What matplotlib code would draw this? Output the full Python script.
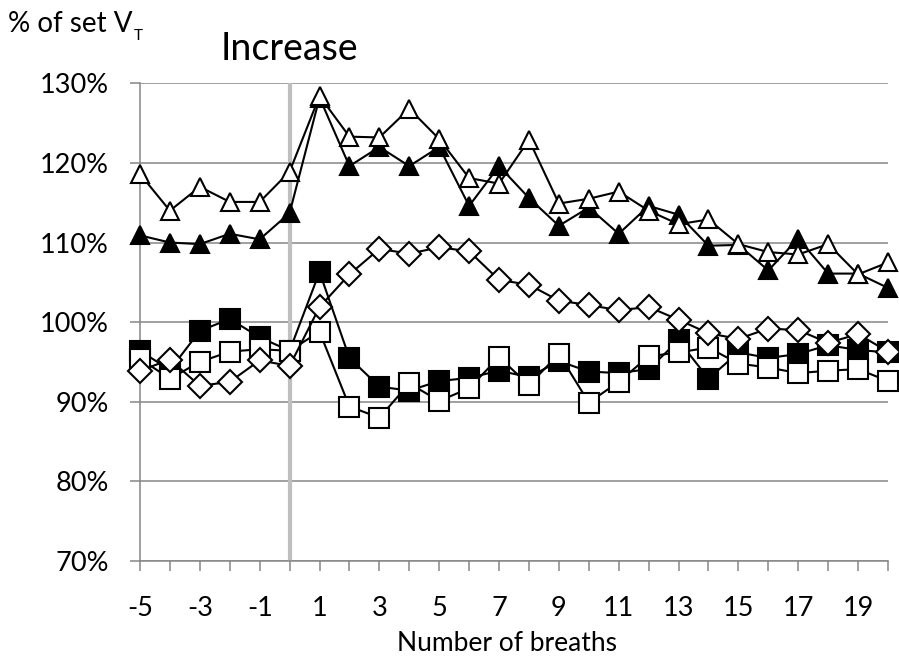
import matplotlib
matplotlib.use('Agg')
import matplotlib.pyplot as plt

plt.rcParams['font.family'] = ['Lato', 'DejaVu Sans']

# ---- data (percent of set VT) ----
breaths = list(range(-5, 21))
open_triangle = [118.6, 114.0, 117.0, 115.1, 115.1, 118.9, 128.4, 123.3, 123.2, 126.8,
                 123.0, 118.1, 117.4, 122.9, 114.9, 115.5, 116.4, 114.0, 112.3, 112.9,
                 109.8, 108.8, 108.5, 109.8, 106.0, 107.5]
filled_triangle = [110.9, 110.0, 109.8, 111.1, 110.4, 113.7, 128.2, 119.6, 122.0, 119.6,
                   122.0, 114.6, 119.6, 115.6, 112.1, 114.4, 111.1, 114.6, 113.5, 109.6,
                   109.7, 106.5, 110.5, 106.1, 106.1, 104.3]
open_diamond = [93.9, 95.3, 92.0, 92.5, 95.2, 94.5, 101.9, 106.0, 109.2, 108.6,
                109.4, 108.9, 105.3, 104.7, 102.7, 102.15, 101.5, 101.9, 100.3, 98.6,
                97.9, 99.2, 99.0, 97.4, 98.5, 96.3]
filled_square = [96.4, 94.0, 98.9, 100.4, 98.1, 96.4, 106.3, 95.5, 91.9, 91.4,
                 92.6, 93.0, 93.9, 93.1, 95.1, 93.8, 93.6, 94.1, 97.7, 92.9,
                 96.2, 95.5, 96.0, 97.1, 96.5, 96.2]
open_square = [95.4, 92.9, 95.0, 96.3, 96.6, 96.4, 98.8, 89.4, 88.0, 92.3,
               90.1, 91.7, 95.6, 92.1, 96.0, 89.9, 92.5, 95.7, 96.2, 96.8,
               94.8, 94.3, 93.6, 93.9, 94.1, 92.6]
y_ticks = [70, 80, 90, 100, 110, 120, 130]
x_tick_labels = [str(b) if b % 2 != 0 else '' for b in breaths]

W, H = 899, 658
fig = plt.figure(figsize=(W / 100, H / 100), dpi=100)
ax = fig.add_axes([140 / W, 1 - 561 / H, 748 / W, (561 - 83.3) / H])

grid_col = '#868686'
ax.set_xlim(-5, 20)
ax.set_ylim(70, 130)
ax.set_yticks(y_ticks)
ax.set_yticklabels(['%d%%' % v for v in y_ticks])
ax.set_xticks(breaths)
ax.set_xticklabels(x_tick_labels)

ax.yaxis.grid(True, color=grid_col, lw=1.1)
ax.set_axisbelow(True)
for s in ['top', 'right']:
    ax.spines[s].set_visible(False)
for s in ['left', 'bottom']:
    ax.spines[s].set_color(grid_col)
    ax.spines[s].set_linewidth(1.1)

ax.tick_params(axis='y', length=7.2, width=1.1, color=grid_col, labelsize=19.5, pad=15)
ax.tick_params(axis='x', length=7.2, width=1.1, color=grid_col, labelsize=19.5, pad=18)

ax.axvline(0, color='#bfbfbf', lw=3, zorder=1.5)

series = [
    (filled_square, 's', 'black', 14),
    (open_square, 's', 'white', 14),
    (open_diamond, 'D', 'white', 12.4),
    (filled_triangle, '^', 'black', 13.5),
    (open_triangle, '^', 'white', 13.5),
]
for i, (vals, m, fc, ms) in enumerate(series):
    ax.plot(breaths, vals, color='black', lw=1.5, marker=m, markersize=ms,
            mfc=fc, mec='black', mew=1.5, clip_on=False, zorder=3 + i)

fig.text(507 / W, 1 - 651 / H, 'Number of breaths', fontsize=19, ha='center', va='baseline')
fig.text(289 / W, 1 - 60 / H, 'Increase', fontsize=27, ha='center', va='baseline')
t = fig.text(8 / W, 1 - 32 / H, '% of set V', fontsize=20, ha='left', va='baseline')
fig.canvas.draw()
bb = t.get_window_extent()
fig.text((bb.x1 + 1) / W, 1 - 39.5 / H, 'T', fontsize=11, ha='left', va='baseline')

fig.savefig('out.png', dpi=100)
